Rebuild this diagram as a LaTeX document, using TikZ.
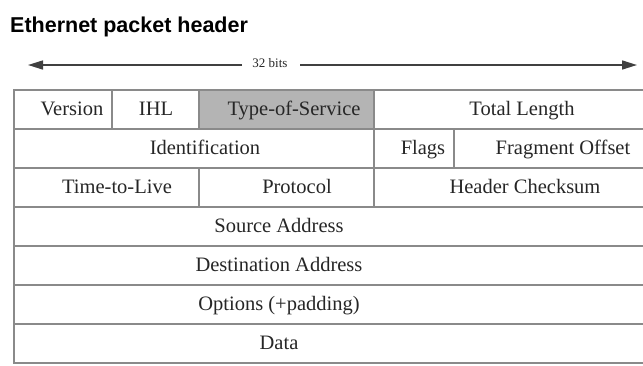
\documentclass[tikz,border=0pt]{standalone}
\usepackage{fontspec}
\setmainfont{Liberation Serif}
\newfontfamily\titlefont{Liberation Sans}
\usetikzlibrary{arrows.meta}
\definecolor{gridcol}{HTML}{8A8A8A}
\definecolor{shadecol}{HTML}{B4B4B4}
\tikzset{
  cell/.style={anchor=base, inner sep=0pt, font=\fontsize{20.5}{21}\selectfont, text=black!85},
  grid/.style={draw=gridcol, line width=1.5pt},
  dimarrow/.style={draw=black!75, line width=1.6pt, -{Triangle[length=15pt,width=9pt]}}
}
\begin{document}
\begin{tikzpicture}[x=1pt,y=-1pt]
\useasboundingbox (0,0) rectangle (643,365);
% title
\node[anchor=base west, inner sep=0pt, font=\titlefont\bfseries\fontsize{21.5}{22}\selectfont] (title) at (10,32) {Ethernet packet header};
% 32 bits arrow
\node[inner sep=0pt, font=\fontsize{13}{14}\selectfont, text=black!85] (bits) at (270,63) {32 bits};
\coordinate (lefttip) at (28,65);
\coordinate (righttip) at (637,65);
\coordinate (lgap) at (242,65);
\coordinate (rgap) at (300,65);
\draw[dimarrow] (lgap) -- (lefttip);
\draw[dimarrow] (rgap) -- (righttip);
% shaded cell
\fill[shadecol] (199,90) rectangle (374,129);
% grid
\draw[grid] (660,90) -- (14,90) -- (14,363) -- (660,363);
\foreach \yy in {129,168,207,246,285,324} { \draw[grid] (14,\yy) -- (660,\yy); }
\draw[grid] (112,90) -- (112,129);
\draw[grid] (199,90) -- (199,129);
\draw[grid] (374,90) -- (374,207);
\draw[grid] (454,129) -- (454,168);
\draw[grid] (199,168) -- (199,207);
% row 1
\node[cell] (version) at (72,115) {Version};
\node[cell] (ihl) at (156,115) {IHL};
\node[cell] (tos) at (294,115) {Type-of-Service};
\node[cell] (totlen) at (522,115) {Total Length};
% row 2
\node[cell] (ident) at (205,154) {Identification};
\node[cell] (flags) at (423,154) {Flags};
\node[cell] (fragoff) at (563,154) {Fragment Offset};
% row 3
\node[cell] (ttl) at (117,193) {Time-to-Live};
\node[cell] (proto) at (297,193) {Protocol};
\node[cell] (chk) at (525,193) {Header Checksum};
% full rows
\node[cell] (src) at (279,232.5) {Source Address};
\node[cell] (dst) at (279,271.5) {Destination Address};
\node[cell] (opts) at (279,310.5) {Options (+padding)};
\node[cell] (data) at (279,349.5) {Data};
\end{tikzpicture}
\end{document}
